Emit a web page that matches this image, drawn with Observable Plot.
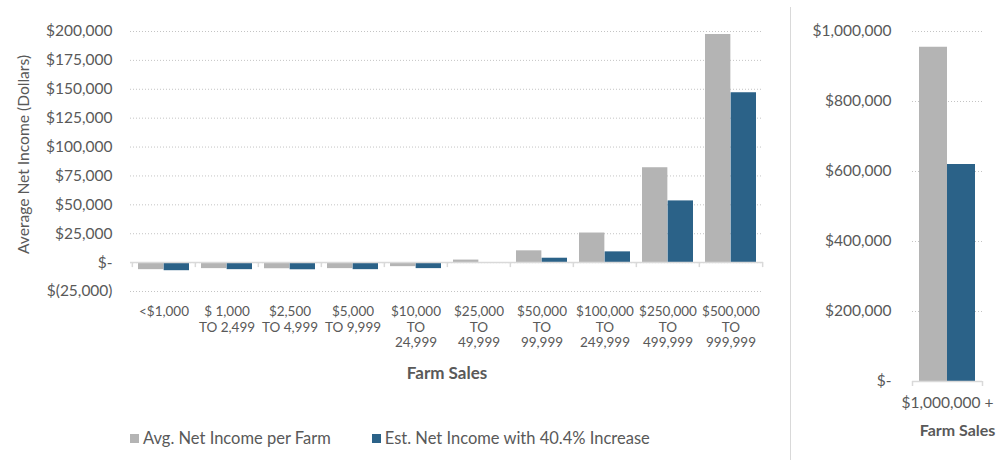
<!DOCTYPE html>
<html>
<head>
<meta charset="utf-8">
<script src="https://cdn.jsdelivr.net/npm/d3@7"></script>
<script src="https://cdn.jsdelivr.net/npm/@observablehq/plot@0.6"></script>
<style>
  html, body { margin: 0; padding: 0; background: #fff; }
  #wrap { position: relative; width: 1008px; height: 460px; overflow: hidden; font-family: Lato, sans-serif; color: #595959; }
  #left { position: absolute; left: 0; top: 0; }
  #right { position: absolute; left: 792px; top: 0; }
  #sep { position: absolute; left: 790px; top: 7px; width: 0; height: 453px; border-left: 1.5px solid #d9d9d9; }
  #legend { position: absolute; left: 130px; top: 428px; font-size: 16.5px; display: flex; align-items: center; white-space: nowrap; }
  #legend .item { display: flex; align-items: center; }
  #legend .sw { display: inline-block; width: 9px; height: 9px; margin-right: 4px; }
</style>
</head>
<body>
<div id="wrap">
  <div id="left"></div>
  <div id="sep"></div>
  <div id="right"></div>
  <div id="legend"></div>
</div>
<script>
// ---- data ----
const categories = ["<$1,000", "$ 1,000\nTO 2,499", "$2,500\nTO 4,999", "$5,000\nTO 9,999",
  "$10,000\nTO\n24,999", "$25,000\nTO\n49,999", "$50,000\nTO\n99,999", "$100,000\nTO\n249,999",
  "$250,000\nTO\n499,999", "$500,000\nTO\n999,999"];
const avgNetIncome = [-6100, -5200, -5300, -5200, -3500, 2200, 10200, 25600, 82100, 197400];
const estNetIncome = [-7000, -6100, -6200, -6100, -5200, 0, 3800, 9300, 53400, 147000];
const leftTicks = [-25000, 0, 25000, 50000, 75000, 100000, 125000, 150000, 175000, 200000];

const bigCategory = ["$1,000,000 +"];
const bigAvg = [955000];
const bigEst = [620000];
const rightTicks = [0, 200000, 400000, 600000, 800000, 1000000];

const seriesNames = ["Avg. Net Income per Farm", "Est. Net Income with 40.4% Increase"];
const seriesColors = ["#b4b4b4", "#2b6288"];
const axisTitleY = "Average Net Income (Dollars)";
const axisTitleX = "Farm Sales";

// ---- helpers ----
const fmt = d3.format(",");
const acct = v => v === 0 ? "$-" : v < 0 ? `$(${fmt(-v)})` : `$${fmt(v)}`;

const rows = categories.map((c, i) => ({cat: c, avg: avgNetIncome[i], est: estNetIncome[i]}));
const bigRows = bigCategory.map((c, i) => ({cat: c, avg: bigAvg[i], est: bigEst[i]}));

// ---- left chart ----
const LW = 790, LML = 130, LMR = 27;
const step = (LW - LML - LMR) / categories.length;
const pad = 6, bw = (step - 2 * pad) / 2;

const left = Plot.plot({
  width: LW,
  height: 395,
  marginLeft: LML,
  marginRight: LMR,
  marginTop: 31,
  marginBottom: 104,
  style: {fontFamily: "Lato, sans-serif", fontSize: "15px", color: "#595959", background: "transparent"},
  x: {type: "band", domain: categories, padding: 0},
  y: {domain: [-25000, 200000]},
  marks: [
    Plot.gridY(leftTicks, {stroke: "#c4c4c4", strokeOpacity: 1, strokeDasharray: "1,2"}),
    Plot.barY(rows, {x: "cat", y: "avg", fill: seriesColors[0], insetLeft: pad, insetRight: pad + bw}),
    Plot.barY(rows, {x: "cat", y: "est", fill: seriesColors[1], insetLeft: pad + bw, insetRight: pad}),
    Plot.ruleY([0], {stroke: "#d9d9d9", strokeWidth: 1.5}),
    Plot.ruleX(categories, {x: d => d, y1: 0, y2: 0, insetTop: 0, insetBottom: -5, dx: -step / 2, stroke: "#d9d9d9", strokeWidth: 1.5}),
    Plot.ruleX(categories.slice(-1), {x: d => d, y1: 0, y2: 0, insetTop: 0, insetBottom: -5, dx: step / 2, stroke: "#d9d9d9", strokeWidth: 1.5}),
    Plot.axisY(leftTicks, {tickSize: 0, tickPadding: 18, tickFormat: acct, fontSize: 15.5, label: null}),
    Plot.text([axisTitleY], {text: d => d, frameAnchor: "left", textAnchor: "middle", lineAnchor: "middle", rotate: -90, dx: -107, dy: -7, fontSize: 15.6}),
    Plot.axisX({tickSize: 0, tickPadding: 13.5, fontSize: 13.5, lineHeight: 1.16, label: null}),
    Plot.text([axisTitleX], {text: d => d, frameAnchor: "bottom", dy: 87, fontWeight: "bold", fontSize: 17})
  ]
});
document.getElementById("left").appendChild(left);

// ---- right chart ----
const RW = 216, RML = 120, RMR = 26;
const rstep = RW - RML - RMR;
const rbw = 28, rpad = (rstep - 2 * rbw) / 2;
const right = Plot.plot({
  width: RW,
  height: 460,
  marginLeft: RML,
  marginRight: RMR,
  marginTop: 31,
  marginBottom: 79,
  style: {fontFamily: "Lato, sans-serif", fontSize: "15px", color: "#595959", background: "transparent"},
  x: {type: "band", domain: bigCategory, padding: 0},
  y: {domain: [0, 1000000]},
  marks: [
    Plot.gridY(rightTicks, {stroke: "#c4c4c4", strokeOpacity: 1, strokeDasharray: "1,2"}),
    Plot.barY(bigRows, {x: "cat", y: "avg", fill: seriesColors[0], insetLeft: rpad, insetRight: rpad + rbw}),
    Plot.barY(bigRows, {x: "cat", y: "est", fill: seriesColors[1], insetLeft: rpad + rbw, insetRight: rpad}),
    Plot.ruleY([0], {stroke: "#d9d9d9", strokeWidth: 1.5}),
    Plot.ruleX(bigCategory, {x: d => d, y1: 0, y2: 0, insetTop: 0, insetBottom: -5, dx: -rstep / 2, stroke: "#d9d9d9", strokeWidth: 1.5}),
    Plot.ruleX(bigCategory, {x: d => d, y1: 0, y2: 0, insetTop: 0, insetBottom: -5, dx: rstep / 2, stroke: "#d9d9d9", strokeWidth: 1.5}),
    Plot.axisY(rightTicks, {tickSize: 0, tickPadding: 21, tickFormat: acct, fontSize: 15.5, label: null}),
    Plot.axisX({tickSize: 0, tickPadding: 15, fontSize: 15.5, label: null}),
    Plot.text([axisTitleX], {text: d => d, frameAnchor: "bottom", dy: 54, dx: 10, fontWeight: "bold", fontSize: 16})
  ]
});
document.getElementById("right").appendChild(right);

// ---- legend ----
const legend = document.getElementById("legend");
seriesNames.forEach((name, i) => {
  const item = document.createElement("span");
  item.className = "item";
  if (i > 0) item.style.marginLeft = "41px";
  const sw = document.createElement("span");
  sw.className = "sw";
  sw.style.background = seriesColors[i];
  item.appendChild(sw);
  item.appendChild(document.createTextNode(name));
  legend.appendChild(item);
});
</script>
</body>
</html>
